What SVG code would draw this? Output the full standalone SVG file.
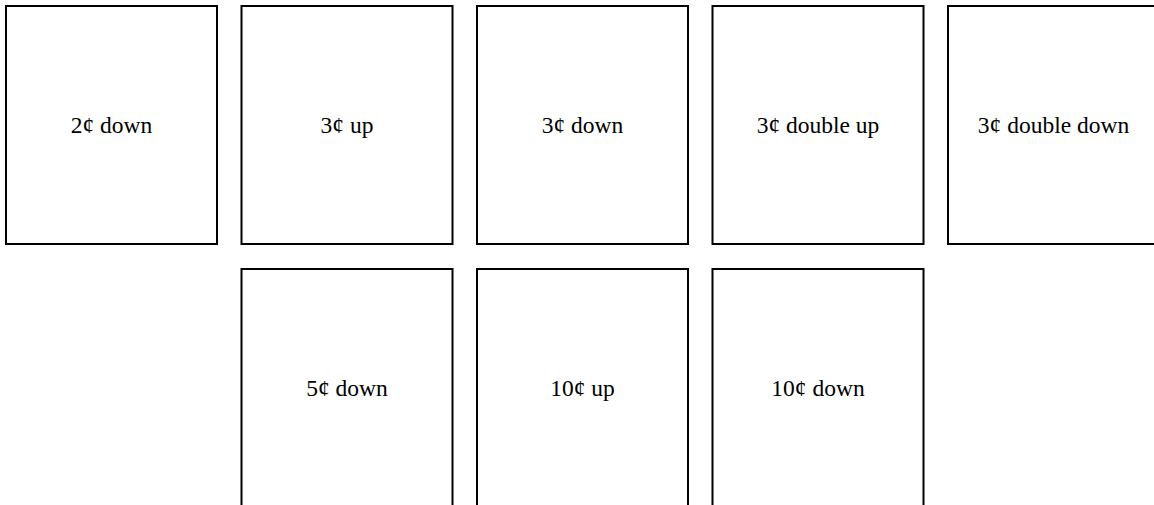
<svg xmlns="http://www.w3.org/2000/svg" width="1154" height="505" viewBox="0 0 1154 505">
<style>
.box{fill:#fff;stroke:#000;stroke-width:2}
.lbl{font-family:"Liberation Serif","Times New Roman",serif;font-size:23.5px;fill:#000;text-anchor:middle}
</style>
<rect width="1154" height="505" fill="#fff"/>
<g id="n1"><rect class="box" x="6" y="6" width="211" height="238"/><text class="lbl" x="111.5" y="133">2¢ down</text></g>
<g id="n2"><rect class="box" x="241.5" y="6" width="211" height="238"/><text class="lbl" x="347" y="133">3¢ up</text></g>
<g id="n3"><rect class="box" x="477" y="6" width="211" height="238"/><text class="lbl" x="582.5" y="133">3¢ down</text></g>
<g id="n4"><rect class="box" x="712.5" y="6" width="211" height="238"/><text class="lbl" x="818" y="133">3¢ double up</text></g>
<g id="n5"><rect class="box" x="948" y="6" width="211" height="238"/><text class="lbl" x="1053.5" y="133">3¢ double down</text></g>
<g id="n6"><rect class="box" x="241.5" y="269" width="211" height="238"/><text class="lbl" x="347" y="396">5¢ down</text></g>
<g id="n7"><rect class="box" x="477" y="269" width="211" height="238"/><text class="lbl" x="582.5" y="396">10¢ up</text></g>
<g id="n8"><rect class="box" x="712.5" y="269" width="211" height="238"/><text class="lbl" x="818" y="396">10¢ down</text></g>
<g id="connectors"></g>
</svg>
